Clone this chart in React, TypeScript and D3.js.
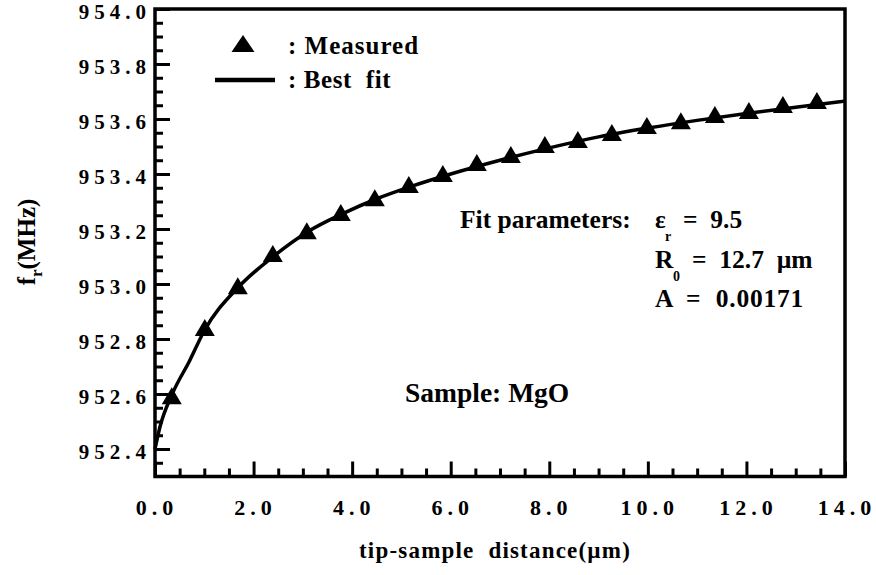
import React, { useEffect, useRef } from "react";
import * as d3 from "d3";

// measured points (tip-sample distance in um, resonance frequency in MHz)
const distance = [0.34, 1.01, 1.68, 2.39, 3.08, 3.77, 4.46, 5.15, 5.84, 6.53, 7.22, 7.91, 8.58, 9.27, 9.98, 10.67, 11.36, 12.05, 12.74, 13.43];
const measured = [952.585, 952.833, 952.985, 953.102, 953.185, 953.251, 953.305, 953.353, 953.393, 953.433, 953.462, 953.498, 953.516, 953.542, 953.567, 953.585, 953.607, 953.622, 953.644, 953.658];

// best fit curve
const fitX = [0, 0.1, 0.35, 0.7, 1.0, 1.7, 2.4, 3.1, 3.8, 4.5, 5.2, 6, 7, 8, 9, 10, 11, 12, 13, 14];
const fitY = [952.40, 952.48, 952.60, 952.72, 952.83, 952.99, 953.10, 953.19, 953.255, 953.31, 953.355, 953.40, 953.45, 953.495, 953.535, 953.567, 953.595, 953.62, 953.643, 953.665];

const xMajor = [0, 2, 4, 6, 8, 10, 12, 14];
const yMajor = [952.4, 952.6, 952.8, 953.0, 953.2, 953.4, 953.6, 953.8, 954.0];

const FONT = "Liberation Serif";

export default function App() {
  const ref = useRef<SVGSVGElement>(null);

  useEffect(() => {
    const svg = d3.select(ref.current);
    svg.selectAll("*").remove();

    const left = 155, right = 845, top = 9, bottom = 476.5;

    const x = d3.scaleLinear().domain([0, 14]).range([left, right]);
    const y = d3.scaleLinear().domain([952.3, 954.0]).range([bottom, top]);

    const xMinor = d3.range(0, 14.001, 0.5).filter((v) => v % 2 !== 0);
    const yMinor = d3.range(952.35, 954.001, 0.05).filter(
      (v) => !yMajor.some((m) => Math.abs(m - v) < 1e-6)
    );

    // x axis ticks (inward)
    svg.append("g")
      .attr("transform", `translate(0,${bottom})`)
      .call(d3.axisBottom(x).tickValues(xMinor).tickSize(-8).tickFormat(() => ""))
      .call((g) => g.select(".domain").remove());

    svg.append("g")
      .attr("transform", `translate(0,${bottom})`)
      .call(d3.axisBottom(x).tickValues(xMajor).tickSize(-15).tickPadding(23).tickFormat((d) => (d as number).toFixed(1)))
      .call((g) => g.select(".domain").remove())
      .call((g) => g.selectAll("text")
        .style("font-family", FONT)
        .attr("font-weight", "bold")
        .attr("font-size", 22)
        .attr("letter-spacing", 5)
        .attr("dx", 1.5)
        .attr("fill", "#000"));

    // y axis ticks (inward)
    svg.append("g")
      .attr("transform", `translate(${left},0)`)
      .call(d3.axisLeft(y).tickValues(yMinor).tickSize(-8).tickFormat(() => ""))
      .call((g) => g.select(".domain").remove());

    svg.append("g")
      .attr("transform", `translate(${left},0)`)
      .call(d3.axisLeft(y).tickValues(yMajor).tickSize(-15).tickPadding(4).tickFormat((d) => (d as number).toFixed(1)))
      .call((g) => g.select(".domain").remove())
      .call((g) => g.selectAll("text")
        .style("font-family", FONT)
        .attr("font-weight", "bold")
        .attr("font-size", 21)
        .attr("letter-spacing", 5)
        .attr("dy", "0.45em")
        .attr("fill", "#000"));

    svg.selectAll(".tick line").attr("stroke", "#000").attr("stroke-width", 3);

    // frame
    svg.append("rect")
      .attr("x", left)
      .attr("y", top)
      .attr("width", right - left)
      .attr("height", bottom - top)
      .attr("fill", "none")
      .attr("stroke", "#000")
      .attr("stroke-width", 3.5);

    // best fit
    const line = d3.line<number>()
      .x((d, i) => x(fitX[i]))
      .y((d) => y(d))
      .curve(d3.curveMonotoneX);

    svg.append("path")
      .datum(fitY)
      .attr("d", line)
      .attr("fill", "none")
      .attr("stroke", "#000")
      .attr("stroke-width", 3.5);

    // measured triangles
    const tri = "M0,-11 L10,6 L-10,6 Z";
    svg.append("g")
      .selectAll("path")
      .data(measured)
      .enter()
      .append("path")
      .attr("d", tri)
      .attr("transform", (d, i) => `translate(${x(distance[i])},${y(d)})`)
      .attr("fill", "#000");

    // legend
    svg.append("path").attr("d", "M0,-11 L11.5,6 L-11.5,6 Z").attr("transform", "translate(243,46)").attr("fill", "#000");
    svg.append("line")
      .attr("x1", 215).attr("x2", 275).attr("y1", 80).attr("y2", 80)
      .attr("stroke", "#000").attr("stroke-width", 4.5);

    const txt = (tx: number, ty: number, s: string, size = 24) =>
      svg.append("text")
        .attr("x", tx)
        .attr("y", ty)
        .style("font-family", FONT)
        .attr("font-weight", "bold")
        .attr("font-size", size)
        .attr("fill", "#000")
        .style("white-space", "pre")
        .text(s);

    txt(288, 54, ": Measured", 25).attr("letter-spacing", 1);
    txt(288, 88, ": Best  fit", 25).attr("letter-spacing", 0.6);

    // fit parameters
    txt(460, 228, "Fit parameters:", 25.5);
    txt(655, 228, "\u03b5", 25);
    txt(665, 241, "r", 14);
    txt(683, 228, "=  9.5", 25.5);
    txt(655, 268, "R", 25.5);
    txt(673, 281, "0", 14);
    txt(692, 268, "=  12.7  \u00b5m", 25.5);
    txt(655, 307, "A", 25.5);
    txt(686, 307, "=  0.00171", 25.5).attr("letter-spacing", 0.8);

    txt(405, 402, "Sample: MgO", 27.5);

    // axis titles
    txt(495, 558, "tip-sample  distance(\u00b5m)", 23)
      .attr("text-anchor", "middle")
      .attr("letter-spacing", 1.2);

    const yt = svg.append("text")
      .attr("transform", "translate(35,242) rotate(-90)")
      .attr("text-anchor", "middle")
      .style("font-family", FONT)
      .attr("font-weight", "bold")
      .attr("font-size", 25)
      .attr("fill", "#000");
    yt.append("tspan").text("f");
    yt.append("tspan").attr("font-size", 17).attr("dy", 7).text("r");
    yt.append("tspan").attr("dy", -7).text("(MHz)");
  }, []);

  return (
    <svg
      ref={ref}
      width={876}
      height={575}
      style={{ position: "absolute", left: 0, top: 0, background: "#fff" }}
    />
  );
}
